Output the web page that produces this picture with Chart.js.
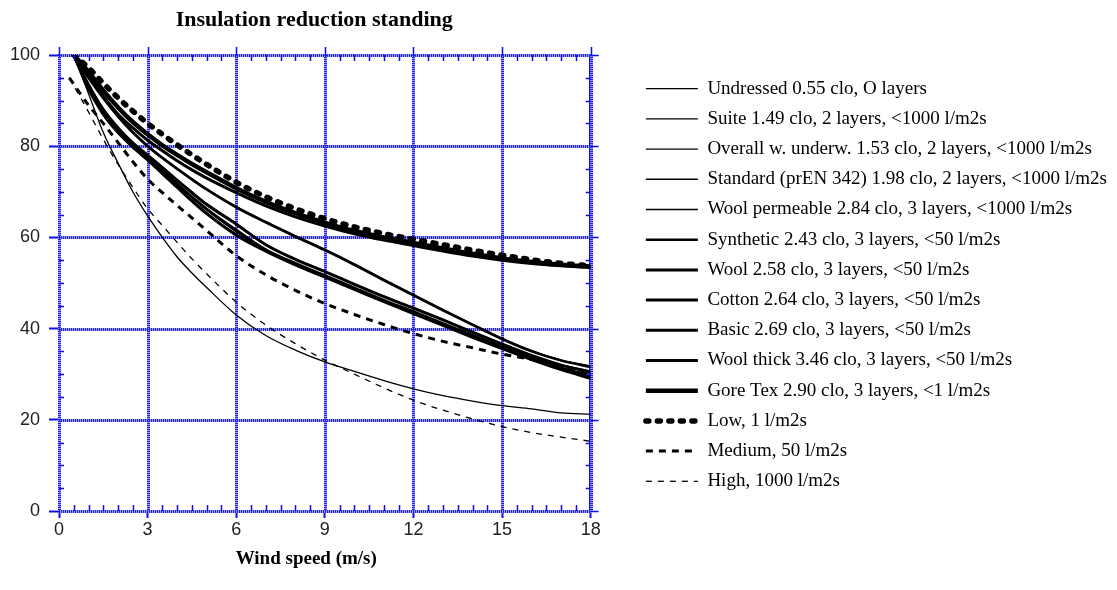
<!DOCTYPE html>
<html>
<head>
<meta charset="utf-8">
<title>Insulation reduction standing</title>
<script src="https://cdn.jsdelivr.net/npm/chart.js@4/dist/chart.umd.min.js"></script>
<style>
  html, body { margin: 0; padding: 0; background: #ffffff; }
  #wrap { width: 1117px; height: 590px; position: relative; }
</style>
</head>
<body>
<div id="wrap"><canvas id="chart" width="1117" height="590"></canvas></div>
<script>
// Wind speed (m/s) sample points
const windSpeed      = [0.5, 1, 1.5, 2, 2.5, 3, 3.5, 4, 4.5, 5, 6, 7, 8, 9, 10, 11, 12, 13, 14, 15, 16, 17, 18];
const windSpeedModel = [0.35, 1, 1.5, 2, 2.5, 3, 3.5, 4, 4.5, 5, 6, 7, 8, 9, 10, 11, 12, 13, 14, 15, 16, 17, 18];

// Relative insulation (%) per ensemble
const undressed     = [100, 91.5, 83, 76.3, 70, 64.7, 60, 55.7, 52.2, 49, 43, 38.5, 35.3, 32.7, 30.6, 28.6, 26.8, 25.3, 24.1, 23.1, 22.4, 21.5, 21.2];
const suite         = [100, 93.2, 87.6, 83.6, 80.3, 77.6, 74.6, 71.7, 68.8, 66, 61.2, 57.3, 54.2, 51.5, 48.8, 46.1, 43.6, 41, 38.4, 35.9, 33.6, 31.3, 29.5];
const overall       = [100, 93.6, 88.2, 84.1, 80.9, 78.2, 75.5, 72.7, 70, 67.4, 63.1, 58.5, 55.3, 52.6, 49.8, 47.1, 44.6, 42, 39.3, 36.7, 34.2, 32.1, 30.6];
const standard      = [100, 92.7, 87.2, 83.2, 80, 77.2, 74.2, 71.2, 68.2, 65.4, 60.7, 57.1, 54.1, 51.4, 48.7, 46, 43.4, 40.8, 38.2, 35.7, 33.3, 31.1, 29.2];
const woolPermeable = [100, 95.2, 90.7, 86.7, 83.2, 80.2, 77.6, 75.2, 72.9, 70.7, 66.8, 63.5, 60.4, 57.4, 54.2, 50.8, 47.5, 44.2, 41, 37.9, 35.2, 33.1, 31.8];
const synthetic     = [100, 95, 90.5, 86.5, 83, 80, 77.4, 75, 72.7, 70.5, 66.6, 63.3, 60.2, 57.2, 54, 50.6, 47.3, 44, 40.8, 37.7, 35, 33, 31.6];
const wool          = [100, 93.5, 88, 84, 80.7, 78, 75.3, 72.5, 69.8, 67.2, 62.9, 58.4, 55.2, 52.5, 49.7, 47, 44.5, 41.9, 39.2, 36.6, 34.1, 32, 30.5];
const cotton        = [100, 92.5, 87, 83, 79.8, 77, 74, 71, 68, 65.2, 60.5, 57, 54, 51.3, 48.6, 45.9, 43.3, 40.7, 38.1, 35.6, 33.2, 31, 29.1];
const basic         = [100, 93, 87.5, 83.4, 80.2, 77.4, 74.6, 71.7, 68.9, 66.2, 61.6, 57.3, 54.3, 51.6, 48.9, 46.2, 43.7, 41.1, 38.5, 36, 33.6, 31.4, 29.7];
const woolThick     = [100, 95.5, 91, 87, 84, 81.3, 79, 76.8, 74.8, 73, 69.8, 66.9, 64.5, 62.5, 60.8, 59.4, 58.2, 57, 55.9, 55, 54.3, 53.8, 53.4];
const goreTex       = [100, 96.3, 92.2, 88.5, 85.3, 82.6, 80.2, 78.1, 76.1, 74.3, 70.8, 67.8, 65.3, 63.2, 61.4, 60, 58.8, 57.6, 56.4, 55.4, 54.6, 54, 53.6];
// Model curves by air permeability
const lowPerm       = [100, 97.2, 93.8, 90.6, 87.7, 85, 82.6, 80.3, 78.1, 76, 72.1, 68.9, 66.3, 64.1, 62.3, 60.8, 59.6, 58.4, 57.2, 56.1, 55.1, 54.3, 53.8];
const mediumPerm    = [95, 89, 85, 80.8, 76.6, 72.8, 69.8, 67, 64.3, 61.5, 56, 51.8, 48.4, 45.5, 43.1, 40.9, 38.9, 37.2, 35.8, 34.4, 33.2, 31.7, 30.3];
const highPerm      = [95, 87.5, 81.5, 76, 71, 66.3, 62.6, 58.9, 55.3, 52, 45.8, 40.8, 36.7, 33.1, 30, 27, 24.3, 22.1, 20.2, 18.5, 17.2, 16.2, 15.3];

const seriesLabels = [
  'Undressed 0.55 clo, O layers',
  'Suite 1.49 clo, 2 layers, <1000 l/m2s',
  'Overall w. underw. 1.53 clo, 2 layers, <1000 l/m2s',
  'Standard (prEN 342) 1.98 clo, 2 layers, <1000 l/m2s',
  'Wool permeable 2.84 clo, 3 layers, <1000 l/m2s',
  'Synthetic 2.43 clo, 3 layers, <50 l/m2s',
  'Wool 2.58 clo, 3 layers, <50 l/m2s',
  'Cotton 2.64 clo, 3 layers, <50 l/m2s',
  'Basic 2.69 clo, 3 layers, <50 l/m2s',
  'Wool thick 3.46 clo, 3 layers, <50 l/m2s',
  'Gore Tex 2.90 clo, 3 layers, <1 l/m2s',
  'Low, 1 l/m2s',
  'Medium, 50 l/m2s',
  'High, 1000 l/m2s'
];

const xTicks = [0, 3, 6, 9, 12, 15, 18];
const yTicks = [0, 20, 40, 60, 80, 100];

const chartTitle = 'Insulation reduction standing';
const xAxisTitle = 'Wind speed (m/s)';

const AXIS_BLUE = '#0c0ce8';
const GRID_LIGHT = '#9a9aff';
const GRID_DARK = '#2424e6';
const SERIF = '"Liberation Serif", "Times New Roman", Times, serif';
const SANS = '"Liberation Sans", Arial, Helvetica, sans-serif';

function pairs(xs, ys) {
  return ys.map((v, i) => ({ x: xs[i], y: v }));
}

function series(label, xs, ys, width, dash, cap) {
  return {
    label: label,
    data: pairs(xs, ys),
    borderColor: '#000000',
    backgroundColor: 'rgba(0,0,0,0)',
    borderWidth: width,
    borderDash: dash || [],
    borderCapStyle: cap || 'butt',
    borderJoinStyle: 'round',
    pointRadius: 0,
    pointHoverRadius: 0,
    fill: false,
    cubicInterpolationMode: 'monotone'
  };
}

const datasets = [
  series(seriesLabels[0], windSpeed, undressed, 1.3),
  series(seriesLabels[1], windSpeed, suite, 1.4),
  series(seriesLabels[2], windSpeed, overall, 1.4),
  series(seriesLabels[3], windSpeed, standard, 1.4),
  series(seriesLabels[4], windSpeed, woolPermeable, 1.4),
  series(seriesLabels[5], windSpeed, synthetic, 2.6),
  series(seriesLabels[6], windSpeed, wool, 3),
  series(seriesLabels[7], windSpeed, cotton, 3),
  series(seriesLabels[8], windSpeed, basic, 3),
  series(seriesLabels[9], windSpeed, woolThick, 3),
  series(seriesLabels[10], windSpeed, goreTex, 4.5),
  series(seriesLabels[11], windSpeed, lowPerm, 5.5, [3, 8.5], 'round'),
  series(seriesLabels[12], windSpeedModel, mediumPerm, 3, [7, 6]),
  series(seriesLabels[13], windSpeedModel, highPerm, 1.3, [6, 6])
];

// Dotted blue grid drawn under the curves
const dottedGrid = {
  id: 'dottedGrid',
  beforeDatasetsDraw(chart) {
    const { ctx, chartArea: a, scales } = chart;
    const x = scales.x, y = scales.y;
    const path = () => {
      ctx.beginPath();
      xTicks.forEach(v => {
        const px = Math.round(x.getPixelForValue(v)) + 0.5;
        ctx.moveTo(px, a.top);
        ctx.lineTo(px, a.bottom);
      });
      yTicks.forEach(v => {
        const py = Math.round(y.getPixelForValue(v)) + 0.5;
        ctx.moveTo(a.left, py);
        ctx.lineTo(a.right, py);
      });
    };
    ctx.save();
    ctx.lineWidth = 3;
    ctx.strokeStyle = GRID_LIGHT;
    path();
    ctx.stroke();
    ctx.strokeStyle = GRID_DARK;
    ctx.setLineDash([1, 1]);
    path();
    ctx.stroke();
    ctx.restore();
  }
};

// Minor ticks on all four sides, outward major ticks on top/right, plus the titles
const frameDecor = {
  id: 'frameDecor',
  afterDraw(chart) {
    const { ctx, chartArea: a, scales } = chart;
    const x = scales.x, y = scales.y;
    ctx.save();
    ctx.strokeStyle = AXIS_BLUE;
    ctx.lineWidth = 1.5;
    ctx.beginPath();
    for (let i = 0; i <= 36; i++) {
      const v = i * 0.5;
      const px = Math.round(x.getPixelForValue(v)) + 0.5;
      if (xTicks.includes(v)) {
        ctx.moveTo(px, a.top);
        ctx.lineTo(px, a.top - 8);
      } else {
        ctx.moveTo(px, a.bottom);
        ctx.lineTo(px, a.bottom - 6);
        ctx.moveTo(px, a.top);
        ctx.lineTo(px, a.top + 6);
      }
    }
    for (let i = 0; i <= 20; i++) {
      const v = i * 5;
      const py = Math.round(y.getPixelForValue(v)) + 0.5;
      if (yTicks.includes(v)) {
        ctx.moveTo(a.right, py);
        ctx.lineTo(a.right + 8, py);
      } else {
        ctx.moveTo(a.left, py);
        ctx.lineTo(a.left + 5, py);
        ctx.moveTo(a.right, py);
        ctx.lineTo(a.right - 5, py);
      }
    }
    ctx.stroke();

    ctx.fillStyle = '#000000';
    ctx.textAlign = 'center';
    ctx.textBaseline = 'middle';
    ctx.font = 'bold 22px ' + SERIF;
    ctx.fillText(chartTitle, a.left + a.width * 0.48, 20);
    ctx.font = 'bold 19px ' + SERIF;
    ctx.fillText(xAxisTitle, a.left + a.width * 0.465, 559);
    ctx.restore();
  }
};

function buildChart() {
  const defaultLabels = Chart.defaults.plugins.legend.labels.generateLabels;
  new Chart(document.getElementById('chart'), {
    type: 'line',
    data: { datasets: datasets },
    plugins: [dottedGrid, frameDecor],
    options: {
      responsive: false,
      devicePixelRatio: 1,
      animation: false,
      events: [],
      layout: { padding: { left: 0, right: 0, top: 0, bottom: 20 } },
      plugins: {
        title: { display: false },
        tooltip: { enabled: false },
        legend: {
          display: true,
          position: 'right',
          align: 'center',
          maxWidth: 640,
          labels: {
            usePointStyle: true,
            pointStyle: 'line',
            pointStyleWidth: 52,
            boxHeight: 19,
            padding: 11.2,
            color: '#000000',
            font: { family: SERIF, size: 19 },
            generateLabels(chart) {
              const items = defaultLabels(chart);
              items.forEach(item => {
                const ds = chart.data.datasets[item.datasetIndex];
                item.lineWidth = ds.borderWidth;
                item.lineDash = ds.borderDash;
                item.lineCap = ds.borderCapStyle;
                item.strokeStyle = ds.borderColor;
                item.fillStyle = 'rgba(0,0,0,0)';
                item.pointStyle = 'line';
              });
              return items;
            }
          }
        }
      },
      scales: {
        x: {
          type: 'linear',
          position: 'bottom',
          min: 0,
          max: 18,
          afterFit(scale) { scale.height = 59; },
          afterBuildTicks(scale) { scale.ticks = xTicks.map(v => ({ value: v })); },
          ticks: {
            color: '#222222',
            font: { family: SANS, size: 18 },
            padding: 1,
            maxRotation: 0,
            autoSkip: false
          },
          grid: {
            drawOnChartArea: false,
            drawTicks: true,
            tickLength: 7,
            tickColor: AXIS_BLUE,
            tickWidth: 2
          },
          border: { display: true, color: AXIS_BLUE, width: 2.5 }
        },
        y: {
          type: 'linear',
          position: 'left',
          min: 0,
          max: 100,
          afterFit(scale) { scale.width = 59; },
          afterBuildTicks(scale) { scale.ticks = yTicks.map(v => ({ value: v })); },
          ticks: {
            color: '#222222',
            font: { family: SANS, size: 18 },
            padding: 9
          },
          grid: {
            drawOnChartArea: false,
            drawTicks: true,
            tickLength: 10,
            tickColor: AXIS_BLUE,
            tickWidth: 2
          },
          border: { display: true, color: AXIS_BLUE, width: 2.5 }
        },
        x2: {
          type: 'linear',
          position: 'top',
          axis: 'x',
          min: 0,
          max: 18,
          afterFit(scale) { scale.height = 55; },
          ticks: { display: false },
          grid: { display: false, drawTicks: false },
          border: { display: true, color: AXIS_BLUE, width: 2.5 }
        },
        y2: {
          type: 'linear',
          position: 'right',
          axis: 'y',
          min: 0,
          max: 100,
          afterFit(scale) { scale.width = 44; },
          ticks: { display: false },
          grid: { display: false, drawTicks: false },
          border: { display: true, color: AXIS_BLUE, width: 2.5 }
        }
      }
    }
  });
}

const fontLoads = [
  '19px "Liberation Serif"',
  'bold 22px "Liberation Serif"',
  '18px "Liberation Sans"'
].map(f => document.fonts.load(f).catch(() => null));
Promise.all(fontLoads).then(buildChart, buildChart);
</script>
</body>
</html>
